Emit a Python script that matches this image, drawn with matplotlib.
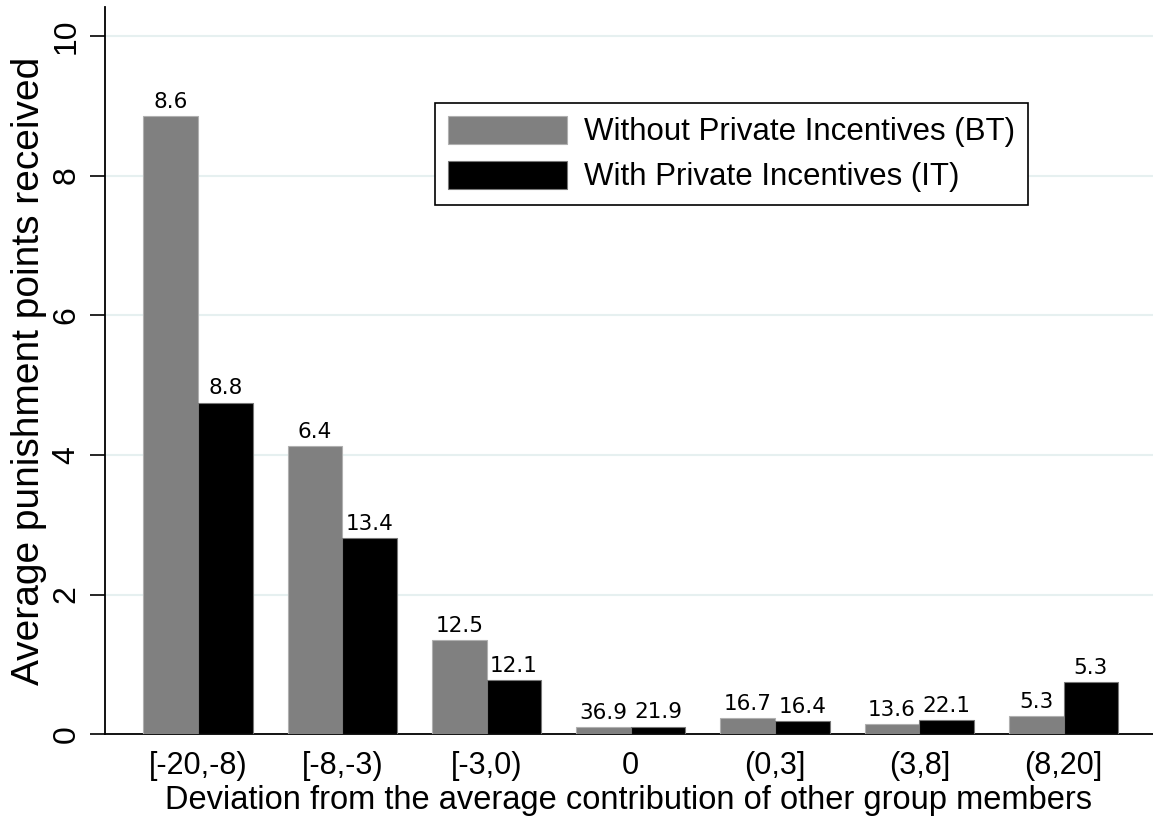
import numpy as np
import matplotlib
matplotlib.use('Agg')
import matplotlib.pyplot as plt
from matplotlib import rcParams

rcParams['font.family'] = ['Liberation Sans', 'DejaVu Sans']

# ---- data ----
categories = ['[-20,-8)', '[-8,-3)', '[-3,0)', '0', '(0,3]', '(3,8]', '(8,20]']
bt_values = [8.85, 4.13, 1.35, 0.10, 0.23, 0.14, 0.26]
it_values = [4.75, 2.81, 0.77, 0.11, 0.19, 0.20, 0.75]
bt_labels = ['8.6', '6.4', '12.5', '36.9', '16.7', '13.6', '5.3']
it_labels = ['8.8', '13.4', '12.1', '21.9', '16.4', '22.1', '5.3']
yticks = [0, 2, 4, 6, 8, 10]

GRAY = '#808080'
BLACK = '#000000'
GRID = '#e6f0f0'

fig = plt.figure(figsize=(11.53, 8.24), dpi=100, facecolor='white')
ax = fig.add_axes([0.091, 0.109, 0.909, 0.883])

x = np.arange(len(categories))
w = 0.378
b1 = ax.bar(x - w / 2, bt_values, w, color=GRAY, edgecolor='#b0b0b0', linewidth=0.8,
            label='Without Private Incentives (BT)', zorder=3)
b2 = ax.bar(x + w / 2, it_values, w, color=BLACK, edgecolor='#777777', linewidth=0.8,
            label='With Private Incentives (IT)', zorder=3)

# bar labels (share of observations)
for bars, labs in [(b1, bt_labels), (b2, it_labels)]:
    for r, t in zip(bars, labs):
        ax.annotate(t, (r.get_x() + r.get_width() / 2, r.get_height()),
                    xytext=(0, 3), textcoords='offset points',
                    ha='center', va='bottom', fontsize=15.5, family='DejaVu Sans')

ax.set_xlim(-0.645, 6.62)
ax.set_ylim(0, 10.42)
ax.set_yticks(yticks)
ax.set_yticklabels([str(v) for v in yticks], rotation=90, va='center', fontsize=23)
ax.set_xticks(x)
ax.set_xticklabels(categories, fontsize=22)
ax.tick_params(axis='x', length=0, pad=12)
ax.tick_params(axis='y', length=11, width=1.2, pad=6)

for v in yticks[1:]:
    ax.axhline(v, color=GRID, lw=1.5, zorder=0)

for s in ['top', 'right']:
    ax.spines[s].set_visible(False)
ax.spines['left'].set_linewidth(1.3)
ax.spines['bottom'].set_linewidth(1.3)

ax.set_ylabel('Average punishment points received', fontsize=28, labelpad=3)
ax.set_xlabel('Deviation from the average contribution of other group members',
              fontsize=23.5, labelpad=3)

leg = ax.legend(loc='upper left', bbox_to_anchor=(0.315, 0.868), fontsize=22.5,
                frameon=True, fancybox=False, edgecolor='black', framealpha=1,
                handlelength=3.8, handleheight=1.0, handletextpad=0.55,
                borderpad=0.42, labelspacing=0.42, borderaxespad=0)
leg.get_frame().set_linewidth(1.2)

plt.savefig('out.png', dpi=100, facecolor='white')
plt.close()
